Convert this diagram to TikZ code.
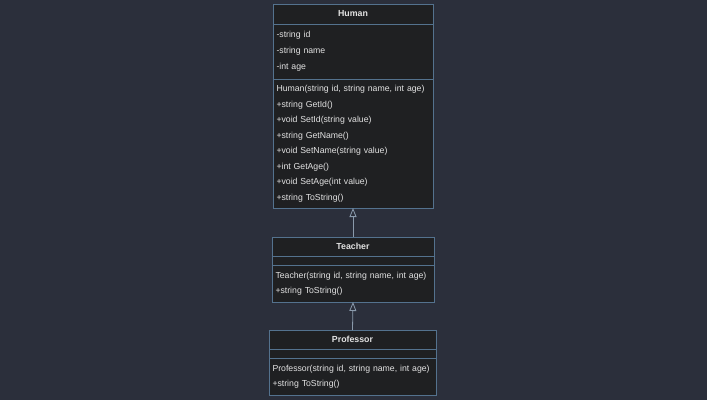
\documentclass[tikz,border=0pt]{standalone}
\usepackage{fontspec}
\setmainfont{Liberation Sans}
\usetikzlibrary{positioning,arrows.meta}

\definecolor{sfondo}{HTML}{2B2F3B}
\definecolor{riempimento}{HTML}{1F2022}
\definecolor{bordo}{HTML}{54728E}
\definecolor{testo}{HTML}{E2E2E2}
\definecolor{linea}{HTML}{8A9AAB}

\begin{document}
\begin{tikzpicture}[x=1pt,y=-1pt,
    titolo/.style={draw=bordo, fill=riempimento, text=testo, line width=1pt, outer sep=0pt, inner sep=0pt, font=\fontsize{8.8}{10}\selectfont\bfseries},
    scomparto/.style={draw=bordo, fill=riempimento, text=testo, line width=1pt, outer sep=0pt, inner xsep=3.5pt, inner ysep=0pt, align=left, font=\fontsize{8.7}{15.5}\selectfont},
    eredita/.style={draw=linea, line width=0.8pt, -{Triangle[open, length=9pt, width=7pt]}}]
\fill[sfondo] (0,0) rectangle (707,400); % sfondo della figura

% classe Human
\node[titolo, minimum width=160pt, minimum height=20pt] (human) at (353,14) {Human};
\node[scomparto, text width=153pt, minimum height=55pt, below=0pt of human, font=\fontsize{8.7}{16}\selectfont] (humanattr) {-string id\\-string name\\-int age};
\node[scomparto, text width=153pt, minimum height=129pt, below=0pt of humanattr] (humanmet) {Human(string id, string name, int age)\\+string GetId()\\+void SetId(string value)\\+string GetName()\\+void SetName(string value)\\+int GetAge()\\+void SetAge(int value)\\+string ToString()};

% classe Teacher
\node[titolo, minimum width=162pt, minimum height=19pt] (teacher) at (353,246.5) {Teacher};
\node[scomparto, text width=155pt, minimum height=9pt, below=0pt of teacher] (teacherattr) {};
\node[scomparto, text width=155pt, minimum height=37pt, below=0pt of teacherattr] (teachermet) {Teacher(string id, string name, int age)\\+string ToString()};

% classe Professor
\node[titolo, minimum width=167pt, minimum height=19pt] (professor) at (352.5,339.5) {Professor};
\node[scomparto, text width=160pt, minimum height=9pt, below=0pt of professor] (professorattr) {};
\node[scomparto, text width=160pt, minimum height=37pt, below=0pt of professorattr] (professormet) {Professor(string id, string name, int age)\\+string ToString()};

\draw[eredita] (teacher.north) -- (humanmet.south); % Teacher eredita da Human
\draw[eredita] (professor.north) -- (teachermet.south); % Professor eredita da Teacher
\end{tikzpicture}
\end{document}
